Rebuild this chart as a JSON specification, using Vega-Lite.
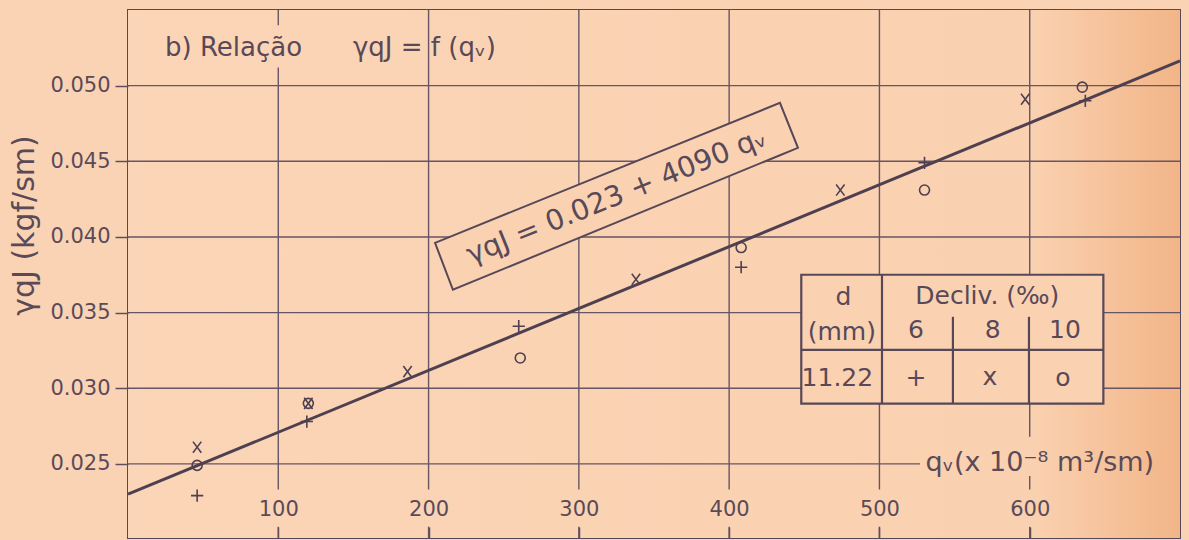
{
  "$schema": "https://vega.github.io/schema/vega-lite/v6.json",
  "width": 1052,
  "height": 528,
  "autosize": {"type": "none"},
  "padding": {"left": 128, "top": 10, "right": 9, "bottom": 2},
  "background": "#fad3b4",
  "config": {
    "view": {"stroke": "#574858", "strokeWidth": 2},
    "font": "DejaVu Sans",
    "text": {"font": "DejaVu Sans", "color": "#584958"}
  },
  "datasets": {
    "points": [
      {"q": 46, "v": 0.0229, "decliv": "6"},
      {"q": 119, "v": 0.0278, "decliv": "6"},
      {"q": 260, "v": 0.0341, "decliv": "6"},
      {"q": 408, "v": 0.0380, "decliv": "6"},
      {"q": 530, "v": 0.0449, "decliv": "6"},
      {"q": 637, "v": 0.0490, "decliv": "6"},
      {"q": 46, "v": 0.0261, "decliv": "8"},
      {"q": 120, "v": 0.0290, "decliv": "8"},
      {"q": 186, "v": 0.0311, "decliv": "8"},
      {"q": 338, "v": 0.0372, "decliv": "8"},
      {"q": 474, "v": 0.0431, "decliv": "8"},
      {"q": 597, "v": 0.0491, "decliv": "8"},
      {"q": 46, "v": 0.0249, "decliv": "10"},
      {"q": 120, "v": 0.0290, "decliv": "10"},
      {"q": 261, "v": 0.0320, "decliv": "10"},
      {"q": 408, "v": 0.0393, "decliv": "10"},
      {"q": 530, "v": 0.0431, "decliv": "10"},
      {"q": 635, "v": 0.0499, "decliv": "10"}
    ],
    "fit": [
      {"q": 0, "v": 0.023},
      {"q": 700, "v": 0.05163}
    ],
    "frame": [
      {"q": 0, "q2": 700, "v": 0.0201, "v2": 0.055}
    ],
    "hgrid": [
      {"v": 0.050, "q": 0, "q2": 700},
      {"v": 0.045, "q": 0, "q2": 700},
      {"v": 0.040, "q": 0, "q2": 700},
      {"v": 0.035, "q": 0, "q2": 700},
      {"v": 0.030, "q": 0, "q2": 700},
      {"v": 0.025, "q": 0, "q2": 527}
    ],
    "vgrid": [
      {"q": 100, "v": 0.0233, "v2": 0.0512},
      {"q": 100, "v": 0.0540, "v2": 0.055},
      {"q": 200, "v": 0.0233, "v2": 0.055},
      {"q": 300, "v": 0.0233, "v2": 0.055},
      {"q": 400, "v": 0.0233, "v2": 0.055},
      {"q": 500, "v": 0.0233, "v2": 0.055},
      {"q": 600, "v": 0.0268, "v2": 0.055},
      {"q": 600, "v": 0.0233, "v2": 0.0242},
      {"q": 100, "v": 0.0201, "v2": 0.02085},
      {"q": 200, "v": 0.0201, "v2": 0.02085},
      {"q": 300, "v": 0.0201, "v2": 0.02085},
      {"q": 400, "v": 0.0201, "v2": 0.02085},
      {"q": 500, "v": 0.0201, "v2": 0.02085},
      {"q": 600, "v": 0.0201, "v2": 0.02085}
    ],
    "eqbox": [
      {"q": 204.3, "v": 0.03961, "v2": 0.03961},
      {"q": 216.2, "v": 0.04009, "v2": 0.03651},
      {"q": 433.8, "v": 0.04886, "v2": 0.04540},
      {"q": 445.8, "v": 0.04589, "v2": 0.04589}
    ],
    "tablebox": [
      {"q": 448, "q2": 649, "v": 0.02898, "v2": 0.0375}
    ],
    "tablev": [
      {"q": 501.7, "v": 0.02898, "v2": 0.0375},
      {"q": 548.9, "v": 0.02898, "v2": 0.03472},
      {"q": 599.5, "v": 0.02898, "v2": 0.03472}
    ],
    "tableh": [
      {"v": 0.03254, "q": 448, "q2": 649}
    ],
    "tabletext": [
      {"q": 476, "v": 0.03605, "label": "d"},
      {"q": 475, "v": 0.03374, "label": "(mm)"},
      {"q": 571.8, "v": 0.03607, "label": "Decliv. (‰)"},
      {"q": 524.3, "v": 0.03387, "label": "6"},
      {"q": 575.3, "v": 0.03387, "label": "8"},
      {"q": 623.4, "v": 0.03387, "label": "10"},
      {"q": 472, "v": 0.03068, "label": "11.22"},
      {"q": 524.3, "v": 0.03068, "label": "+"},
      {"q": 573.5, "v": 0.03075, "label": "x"},
      {"q": 622, "v": 0.03068, "label": "o"}
    ],
    "titles": [
      {"q": 24.6, "v": 0.05249, "label": "b) Relação"},
      {"q": 149.7, "v": 0.05249, "label": "γqJ = f (qᵥ)"}
    ],
    "equation": [
      {"q": 325, "v": 0.04271, "label": "γqJ = 0.023 + 4090 qᵥ"}
    ]
  },
  "encoding": {
    "x": {
      "field": "q", "type": "quantitative",
      "scale": {"domain": [0, 700], "nice": false, "zero": false},
      "axis": {
        "orient": "bottom", "zindex": 2,
        "values": [100, 200, 300, 400, 500, 600],
        "domain": false, "grid": false,
        "ticks": true, "tickSize": -11, "tickWidth": 1.5, "tickColor": "#5e4e5d",
        "labelPadding": -18, "labelBaseline": "middle", "labelFontSize": 21,
        "labelColor": "#5a4a58", "labelFont": "DejaVu Sans",
        "title": "qᵥ(x 10⁻⁸ m³/sm)",
        "titleX": 797, "titleY": -76, "titleAlign": "left", "titleBaseline": "middle",
        "titleFontSize": 27, "titleFontWeight": "normal", "titleColor": "#5a4a58",
        "titleFont": "DejaVu Sans"
      }
    },
    "y": {
      "field": "v", "type": "quantitative",
      "scale": {"domain": [0.0201, 0.055], "nice": false, "zero": false},
      "axis": {
        "orient": "left", "zindex": 2,
        "values": [0.025, 0.030, 0.035, 0.040, 0.045, 0.050],
        "format": ".3f",
        "domain": false, "grid": false,
        "tickSize": 13, "tickWidth": 1.5, "tickColor": "#5e4e5d",
        "labelPadding": 5, "labelFontSize": 21, "labelColor": "#5a4a58",
        "labelFont": "DejaVu Sans",
        "title": "γqJ (kgf/sm)",
        "titleX": -104, "titleY": 215, "titleAngle": -90,
        "titleAlign": "center", "titleBaseline": "middle",
        "titleFontSize": 30, "titleFontWeight": "normal", "titleColor": "#5a4a58",
        "titleFont": "DejaVu Sans"
      }
    }
  },
  "layer": [
    {
      "data": {"name": "frame"},
      "mark": {
        "type": "rect",
        "fill": {
          "gradient": "linear", "x1": 0, "y1": 0, "x2": 1, "y2": 0,
          "stops": [
            {"offset": 0, "color": "#fbd5b7"},
            {"offset": 0.86, "color": "#fad1b0"},
            {"offset": 1, "color": "#f2b588"}
          ]
        }
      },
      "encoding": {
        "x2": {"field": "q2"},
        "y2": {"field": "v2"}
      }
    },
    {
      "data": {"name": "hgrid"},
      "mark": {"type": "rule", "color": "#665565", "strokeWidth": 1.4},
      "encoding": {
        "x2": {"field": "q2"}
      }
    },
    {
      "data": {"name": "vgrid"},
      "mark": {"type": "rule", "color": "#665565", "strokeWidth": 1.4},
      "encoding": {
        "y2": {"field": "v2"}
      }
    },
    {
      "data": {"name": "fit"},
      "mark": {"type": "line", "color": "#4e4050", "strokeWidth": 3},
      "encoding": {}
    },
    {
      "data": {"name": "eqbox"},
      "mark": {"type": "area", "fill": "#fad2b2", "stroke": "#574858", "strokeWidth": 2},
      "encoding": {
        "y2": {"field": "v2"}
      }
    },
    {
      "data": {"name": "equation"},
      "mark": {"type": "text", "fontSize": 28.5, "angle": -22, "align": "center", "baseline": "middle"},
      "encoding": {
        "text": {"field": "label"}
      }
    },
    {
      "data": {"name": "points"},
      "mark": {"type": "point", "filled": false, "strokeWidth": 1.6, "opacity": 1},
      "encoding": {
        "shape": {
          "field": "decliv", "type": "nominal",
          "scale": {
            "domain": ["6", "8", "10"],
            "range": ["M-1,0H1M0,-1V1", "M-0.75,-1L0.75,1M-0.75,1L0.75,-1", "circle"]
          },
          "legend": null
        },
        "size": {
          "field": "decliv", "type": "nominal",
          "scale": {"domain": ["6", "8", "10"], "range": [150, 100, 80]},
          "legend": null
        },
        "color": {"value": "#4e4050"}
      }
    },
    {
      "data": {"name": "tablebox"},
      "mark": {"type": "rect", "fill": "#fad2b2", "stroke": "#574858", "strokeWidth": 2.2},
      "encoding": {
        "x2": {"field": "q2"},
        "y2": {"field": "v2"}
      }
    },
    {
      "data": {"name": "tablev"},
      "mark": {"type": "rule", "color": "#574858", "strokeWidth": 2.2},
      "encoding": {
        "y2": {"field": "v2"}
      }
    },
    {
      "data": {"name": "tableh"},
      "mark": {"type": "rule", "color": "#574858", "strokeWidth": 2.2},
      "encoding": {
        "x2": {"field": "q2"}
      }
    },
    {
      "data": {"name": "tabletext"},
      "mark": {"type": "text", "fontSize": 25, "align": "center", "baseline": "middle"},
      "encoding": {
        "text": {"field": "label"}
      }
    },
    {
      "data": {"name": "titles"},
      "mark": {"type": "text", "fontSize": 26, "align": "left", "baseline": "middle"},
      "encoding": {
        "text": {"field": "label"}
      }
    }
  ]
}
